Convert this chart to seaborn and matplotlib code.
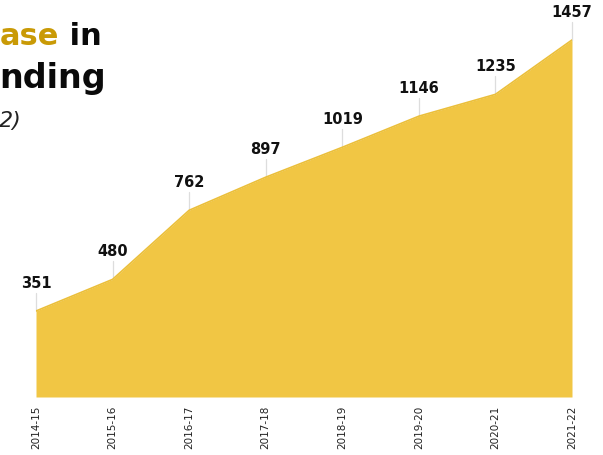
import matplotlib
matplotlib.use("Agg")
import matplotlib.pyplot as plt
import seaborn as sns
import pandas as pd

years = ["2014-15", "2015-16", "2016-17", "2017-18", "2018-19", "2019-20", "2020-21", "2021-22"]
spending = [351, 480, 762, 897, 1019, 1146, 1235, 1457]

sns.set_theme(style="white")
plt.rcParams["font.family"] = ["DejaVu Sans"]

df = pd.DataFrame({"year": years, "value": spending, "pos": range(len(years))})

W, H = 603, 455
fig = plt.figure(figsize=(W / 100, H / 100), dpi=100)
ax = fig.add_axes([36 / W, 1 - 397 / H, (572 - 36) / W, 397 / H])

fill = "#F1C644"
ax.fill_between(df["pos"], df["value"], 0, color=fill, lw=0, zorder=2)
sns.lineplot(data=df, x="pos", y="value", ax=ax, color="#EBBF3A", lw=1.2, zorder=3)

# value stems and labels above each point
for p, v in zip(df["pos"], df["value"]):
    ax.plot([p, p], [v, v + 75], color="#dddddd", lw=0.9, zorder=1, clip_on=False)
    ax.text(p, v + 113, f"{v}", ha="center", va="center", fontsize=10.5,
            fontweight="bold", color="#111111", clip_on=False)

ax.set_xlim(0, len(years) - 1)
ax.set_ylim(0, 1620)
ax.set_xticks(df["pos"])
ax.set_xticklabels(years, rotation=90, fontsize=7.5, color="#222222")
ax.tick_params(axis="x", length=0, pad=6)
ax.set_yticks([])
ax.set_xlabel("")
ax.set_ylabel("")
for s in ax.spines.values():
    s.set_visible(False)

# headline fragments at the top left
fig.canvas.draw()
r = fig.canvas.get_renderer()
gold = "#C99A06"
t_in = fig.text(102 / W, 1 - 45 / H, " in", ha="right", va="baseline",
                fontsize=22, fontweight="bold", color="#0a0a0a")
bb = t_in.get_window_extent(r)
fig.text(bb.x0 / W, 1 - 45 / H, "ase", ha="right", va="baseline",
         fontsize=22, fontweight="bold", color=gold)
fig.text(106 / W, 1 - 88 / H, "nding", ha="right", va="baseline",
         fontsize=24, fontweight="bold", color="#0a0a0a")
fig.text(22 / W, 1 - 127 / H, "2)", ha="right", va="baseline",
         fontsize=16, style="italic", color="#222222")

fig.savefig("out.png", dpi=100)
